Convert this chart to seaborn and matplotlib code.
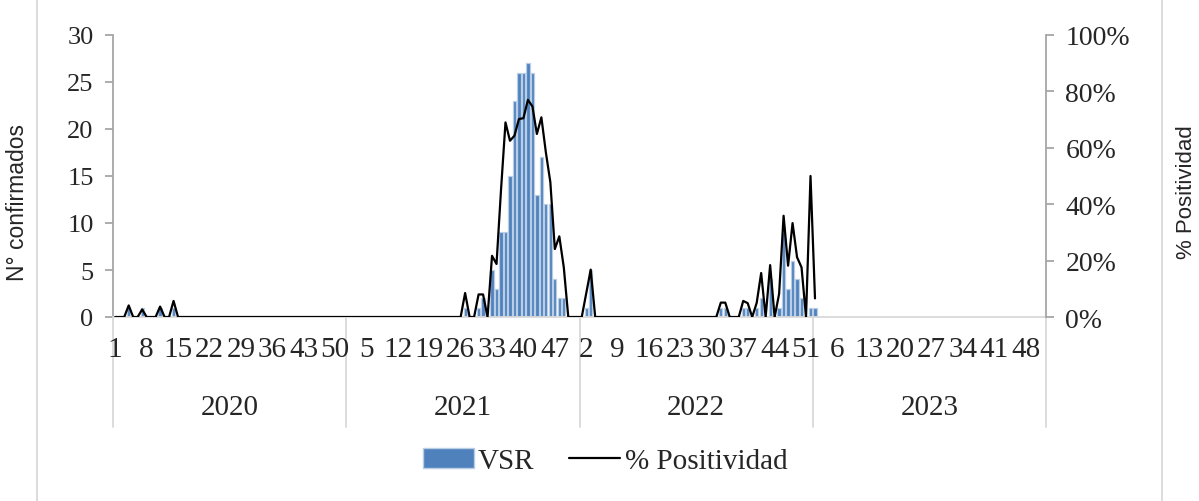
import numpy as np
import pandas as pd
import matplotlib
matplotlib.use("Agg")
import matplotlib.pyplot as plt
import matplotlib.transforms as mtransforms
from matplotlib.patches import Patch
from matplotlib.lines import Line2D
import seaborn as sns

# ===================== DATA =====================
years = ["2020", "2021", "2022", "2023"]
weeks = list(range(1, 53))

# VSR confirmed cases per epidemiological week (1..52)
vsr_2020 = [0, 0, 0, 1, 0, 0, 1, 0, 0, 0, 1, 0, 0,
            1, 0, 0, 0, 0, 0, 0, 0, 0, 0, 0, 0, 0,
            0, 0, 0, 0, 0, 0, 0, 0, 0, 0, 0, 0, 0,
            0, 0, 0, 0, 0, 0, 0, 0, 0, 0, 0, 0, 0]
vsr_2021 = [0, 0, 0, 0, 0, 0, 0, 0, 0, 0, 0, 0, 0,
            0, 0, 0, 0, 0, 0, 0, 0, 0, 0, 0, 0, 0,
            1, 0, 0, 1, 2, 0, 5, 3, 9, 9, 15, 23, 26,
            26, 27, 26, 13, 17, 12, 12, 4, 2, 2, 0, 0, 0]
vsr_2022 = [0, 1, 5, 0, 0, 0, 0, 0, 0, 0, 0, 0, 0,
            0, 0, 0, 0, 0, 0, 0, 0, 0, 0, 0, 0, 0,
            0, 0, 0, 0, 0, 1, 1, 0, 0, 0, 1, 1, 0,
            1, 2, 0, 4, 0, 1, 9, 3, 6, 4, 2, 0, 1]
vsr_2023 = [1, 0, 0, 0, 0, 0, 0, 0, 0, 0, 0, 0, 0,
            0, 0, 0, 0, 0, 0, 0, 0, 0, 0, 0, 0, 0,
            0, 0, 0, 0, 0, 0, 0, 0, 0, 0, 0, 0, 0,
            0, 0, 0, 0, 0, 0, 0, 0, 0, 0, 0, 0, 0]

# % positividad per week
nan = np.nan
pos_2020 = [0, 0, 0, 4.1, 0, 0, 2.7, 0, 0, 0, 3.7, 0, 0,
            5.7, 0, 0, 0, 0, 0, 0, 0, 0, 0, 0, 0, 0,
            0, 0, 0, 0, 0, 0, 0, 0, 0, 0, 0, 0, 0,
            0, 0, 0, 0, 0, 0, 0, 0, 0, 0, 0, 0, 0]
pos_2021 = [0, 0, 0, 0, 0, 0, 0, 0, 0, 0, 0, 0, 0,
            0, 0, 0, 0, 0, 0, 0, 0, 0, 0, 0, 0, 0,
            8.5, 0, 0, 8, 8, 0, 21.7, 18.8, 45, 69, 62.5, 64.3, 70.2,
            70.5, 77, 74.7, 64.9, 70.8, 58.4, 47.8, 24.1, 28.6, 17.6, 0, 0, 0]
pos_2022 = [0, 8.4, 16.8, 0, 0, 0, 0, 0, 0, 0, 0, 0, 0,
            0, 0, 0, 0, 0, 0, 0, 0, 0, 0, 0, 0, 0,
            0, 0, 0, 0, 0, 5.1, 5.1, 0, 0, 0, 5.7, 4.9, 0,
            5, 15.6, 0, 18.4, 0, 8.2, 35.9, 18.2, 33.3, 21.2, 17.6, 0, 50]
pos_2023 = [6.6, nan, nan, nan, nan, nan, nan, nan, nan, nan, nan, nan, nan,
            nan, nan, nan, nan, nan, nan, nan, nan, nan, nan, nan, nan, nan,
            nan, nan, nan, nan, nan, nan, nan, nan, nan, nan, nan, nan, nan,
            nan, nan, nan, nan, nan, nan, nan, nan, nan, nan, nan, nan, nan]

vsr = [vsr_2020, vsr_2021, vsr_2022, vsr_2023]
pos = [pos_2020, pos_2021, pos_2022, pos_2023]

frames = []
for y, v, p in zip(years, vsr, pos):
    frames.append(pd.DataFrame({"year": y, "week": weeks, "vsr": v, "pos": p}))
df = pd.concat(frames, ignore_index=True)
df["idx"] = np.arange(len(df))

# ===================== STYLE =====================
sns.set_style("white")
serif = ["Liberation Serif", "DejaVu Serif"]
sans = ["Liberation Sans", "DejaVu Sans"]
bar_color = "#4f81bd"
bar_edge = "#b9cde5"
axis_gray = "#a6a6a6"
light_gray = "#d9d9d9"

W, H = 1199, 502
fig = plt.figure(figsize=(W / 100, H / 100), dpi=100)
ax = fig.add_axes([113 / W, 1 - 318 / H, (1046 - 113) / W, (318 - 36) / H])

# ===================== BARS =====================
sns.barplot(data=df, x="idx", y="vsr", color=bar_color, width=0.72,
            edgecolor=bar_edge, linewidth=0.9, saturation=1, ax=ax)
for patch in ax.patches:
    if patch.get_height() == 0:
        patch.set_visible(False)

ax.set_ylim(0, 30)
ax.set_yticks(range(0, 31, 5))
ax.set_xlim(-0.5, len(df) - 0.5)

# ===================== LINE =====================
ax2 = ax.twinx()
sns.lineplot(data=df, x="idx", y="pos", color="black", linewidth=1.6, ax=ax2)
ax2.set_ylim(0, 100)
ax2.set_yticks(range(0, 101, 20))
ax2.set_yticklabels([f"{t}%" for t in range(0, 101, 20)])
ax.set_xlim(-0.5, len(df) - 0.5)

# x ticks: week numbers every 7 weeks
tick_pos = list(range(0, len(df), 7))
ax.set_xticks(tick_pos)
ax.set_xticklabels([str(df["week"].iloc[i]) for i in tick_pos])

# ===================== AXES STYLE =====================
for a in (ax, ax2):
    a.set_xlabel("")
    a.set_ylabel("")
    a.spines["top"].set_visible(False)
ax.spines["right"].set_visible(False)
ax.spines["left"].set_color(axis_gray)
ax.spines["left"].set_linewidth(1.3)
ax.spines["bottom"].set_color(light_gray)
ax.spines["bottom"].set_linewidth(1.3)
ax2.spines["left"].set_visible(False)
ax2.spines["bottom"].set_visible(False)
ax2.spines["right"].set_color(axis_gray)
ax2.spines["right"].set_linewidth(1.3)

ax.tick_params(axis="y", length=6, width=1.3, color=axis_gray, pad=8,
               left=True, labelsize=19)
ax2.tick_params(axis="y", length=6, width=1.3, color=axis_gray, pad=8,
                right=True, labelsize=20)
ax.tick_params(axis="x", length=0, pad=14, labelsize=21)
for lab in ax.get_yticklabels() + ax2.get_yticklabels() + ax.get_xticklabels():
    lab.set_family(serif)

# year separators and year labels
trans = mtransforms.blended_transform_factory(ax.transData, ax.transAxes)
n = len(weeks)
for k in range(len(years) + 1):
    ax.plot([k * n - 0.5] * 2, [0, -0.39], transform=trans, color=light_gray,
            lw=1.3, clip_on=False, zorder=0)
for k, y in enumerate(years):
    ax.text(k * n + n / 2 - 0.5, -0.318, y, transform=trans, ha="center",
            va="center", fontsize=21, family=serif)

# axis titles
fig.text(18 / W, 1 - 203 / H, "N° confirmados", rotation=90, ha="center",
         va="center", fontsize=16.5, family=sans)
fig.text(1186 / W, 1 - 192 / H, "% Positividad", rotation=90, ha="center",
         va="center", fontsize=16, family=sans)

# chart border (left / right)
for xpix in (37, 1162):
    fig.add_artist(Line2D([xpix / W] * 2, [0, 1], transform=fig.transFigure,
                          color=light_gray, lw=1.3))

# legend
handles = [Patch(facecolor=bar_color, edgecolor=bar_edge, linewidth=1),
           Line2D([0], [0], color="black", lw=1.6)]
fig.legend(handles, ["VSR", "% Positividad"], loc="center",
           bbox_to_anchor=(605 / W, 1 - 462 / H), ncol=2, frameon=False,
           prop={"family": serif, "size": 21}, handlelength=1.75,
           handletextpad=0.15, columnspacing=1.2)

fig.savefig("out.png", dpi=100)
